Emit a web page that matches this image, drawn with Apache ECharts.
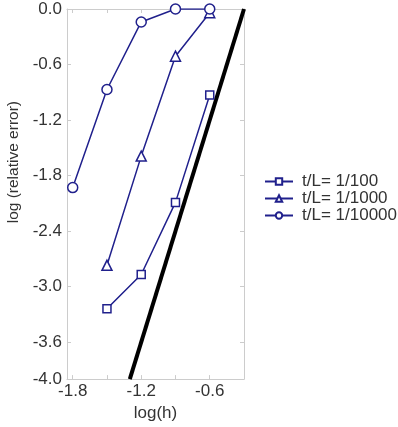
<!DOCTYPE html>
<html><head><meta charset="utf-8">
<script src="https://cdn.jsdelivr.net/npm/echarts@6/dist/echarts.min.js"></script>
<style>html,body{margin:0;padding:0;background:#fff}#c{width:398px;height:427px}</style>
</head><body><div id="c"></div>
<script>
const xValues = [-1.8, -1.5, -1.2, -0.9, -0.6];
const sq100 = [null, -3.24, -2.87, -2.09, -0.93];
const tri1000 = [null, -2.77, -1.59, -0.51, -0.04];
const circ10000 = [-1.93, -0.87, -0.14, 0.0, 0.0];
const refLineX = [-1.3, -0.3];
const refLineY = [-4.0, 0.0];
const xTicks = [-1.8, -1.5, -1.2, -0.9, -0.6];
const xLabels = [-1.8, -1.2, -0.6];
const yLabels = [0, -0.6, -1.2, -1.8, -2.4, -3.0, -3.6, -4.0];
const names = ['t/L= 1/100', 't/L= 1/1000', 't/L= 1/10000'];

const navy = '#20208c';
const frame = '#cccccc';
const font = 'Liberation Sans, Arial, sans-serif';

function pairs(xs, ys) {
  const out = [];
  xs.forEach((x, i) => { if (ys[i] !== null) out.push([x, ys[i]]); });
  return out;
}
function mk(name, data, symbol, size) {
  return {
    name, type: 'line', data, symbol, symbolSize: size,
    xAxisIndex: 0, yAxisIndex: 0,
    lineStyle: { color: navy, width: 1.5 },
    itemStyle: { color: '#fff', borderColor: navy, borderWidth: 1.5 },
    emphasis: { disabled: true }, z: 3
  };
}
const chart = echarts.init(document.getElementById('c'), null, { renderer: 'canvas' });
const xBase = {
  type: 'value', min: -1.85, max: -0.3,
  axisLine: { show: true, onZero: false, lineStyle: { color: frame, width: 1 } },
  axisTick: { show: true, inside: true, length: 4, customValues: xTicks, lineStyle: { color: frame } },
  splitLine: { show: false }
};
const yBase = {
  type: 'value', min: -4, max: 0,
  axisLine: { show: true, onZero: false, lineStyle: { color: frame, width: 1 } },
  axisTick: { show: true, inside: true, length: 4, customValues: yLabels, lineStyle: { color: frame } },
  splitLine: { show: false }
};
chart.setOption({
  animation: false,
  backgroundColor: '#fff',
  grid: { left: 67, right: 154, top: 9, bottom: 42, containLabel: false },
  xAxis: [
    Object.assign({}, xBase, {
      position: 'bottom',
      name: 'log(h)', nameLocation: 'middle', nameGap: 19,
      nameTextStyle: { fontSize: 17, color: '#333', fontFamily: font },
      axisLabel: { customValues: xLabels, fontSize: 17, color: '#333', fontFamily: font, margin: 4,
        formatter: v => v.toFixed(1) }
    }),
    Object.assign({}, xBase, { position: 'top', axisLabel: { show: false } })
  ],
  yAxis: [
    Object.assign({}, yBase, {
      position: 'left',
      axisLabel: { customValues: yLabels, fontSize: 17, color: '#333', fontFamily: font, margin: 5,
        formatter: v => v.toFixed(1) }
    }),
    Object.assign({}, yBase, { position: 'right', axisLabel: { show: false } })
  ],
  legend: {
    left: 259, top: 168, orient: 'vertical', itemGap: 0,
    itemWidth: 28, itemHeight: 8,
    data: names,
    textStyle: { fontSize: 17, color: '#333', fontFamily: font, padding: [0, 0, 0, 4] }
  },
  graphic: [{
    type: 'text', left: 6, top: 101, rotation: Math.PI / 2,
    style: { text: 'log (relative error)', fill: '#333', font: '15.5px ' + font }
  }],
  series: [
    mk(names[0], pairs(xValues, sq100), 'rect', 8),
    mk(names[1], pairs(xValues, tri1000), 'triangle', 10),
    mk(names[2], pairs(xValues, circ10000), 'circle', 10),
    {
      type: 'line', data: pairs(refLineX, refLineY), symbol: 'none',
      lineStyle: { color: '#000', width: 4 }, clip: true, z: 2,
      emphasis: { disabled: true }
    }
  ]
});
</script></body></html>
